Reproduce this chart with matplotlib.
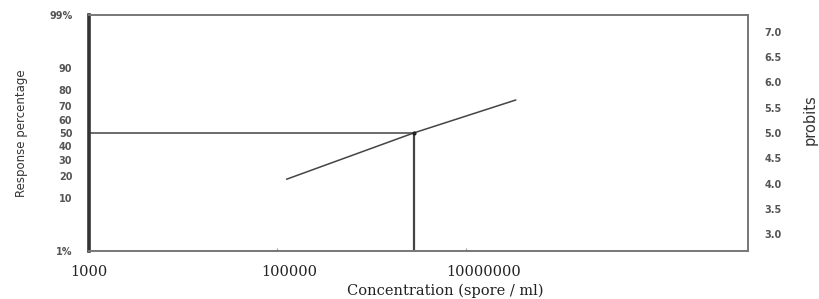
import matplotlib
matplotlib.use('Agg')
import matplotlib.pyplot as plt
from matplotlib.transforms import ScaledTranslation
from statistics import NormalDist

# data
conc = [1.26e5, 2.8e6, 3.4e7]        # spore / ml
probit_vals = [4.09, 5.0, 5.65]
lc50 = 2.8e6

pct_ticks = [1, 10, 20, 30, 40, 50, 60, 70, 80, 90, 99]
pct_labels = ['1%', '10', '20', '30', '40', '50', '60', '70', '80', '90', '99%']
probit_ticks = [3.0, 3.5, 4.0, 4.5, 5.0, 5.5, 6.0, 6.5, 7.0]
x_ticks = [1e3, 1e5, 1e7]
x_labels = ['1000', '100000', '10000000']


def to_probit(p):
    return NormalDist().inv_cdf(p / 100.0) + 5


fig = plt.figure(figsize=(8.19, 2.99), dpi=100)
ax = fig.add_axes([0.1087, 0.1605, 0.8046, 0.7893])
ax.set_xscale('log')
ax.set_xlim(1e3, 1e10)
ax.set_ylim(to_probit(1), to_probit(99))

line_c = '#444444'
ax.plot(conc, probit_vals, color=line_c, lw=1.1)
ax.plot([1e3, lc50], [5.0, 5.0], color=line_c, lw=1.1)
ax.plot([lc50, lc50], [to_probit(1), 5.0], color=line_c, lw=1.6)
ax.plot([lc50], [5.0], 'o', color='#222222', ms=2)

for s in ['top', 'right', 'bottom']:
    ax.spines[s].set_color('#777777')
    ax.spines[s].set_linewidth(1.4)
ax.spines['left'].set_color('#333333')
ax.spines['left'].set_linewidth(2.6)

# left: response percentage on probit scale
ax.set_yticks([to_probit(p) for p in pct_ticks])
ax.set_yticklabels(pct_labels)
ax.tick_params(axis='y', length=0, pad=12, labelsize=7, labelcolor='#555555')
for t in ax.get_yticklabels():
    t.set_fontweight('bold')

ax.set_xticks(x_ticks)
ax.set_xticklabels(x_labels, family='DejaVu Serif', fontsize=10.5, color='#222222')
ax.xaxis.set_minor_locator(matplotlib.ticker.NullLocator())
ax.tick_params(axis='x', direction='in', length=2, color='#999999', pad=10)
# labels in the original sit a little right of their ticks
for t, dx in zip(ax.get_xticklabels(), [0, 12, 18]):
    t.set_transform(t.get_transform() + ScaledTranslation(dx / 100, 0, fig.dpi_scale_trans))

ax.set_ylabel('Response percentage', fontsize=8.5, color='#333333', labelpad=15)

# right: probits
ax2 = ax.twinx()
ax2.set_ylim(ax.get_ylim())
ax2.set_yticks(probit_ticks)
ax2.set_yticklabels(['%.1f' % v for v in probit_ticks])
ax2.tick_params(axis='y', length=0, pad=12, labelsize=7, labelcolor='#555555')
for t in ax2.get_yticklabels():
    t.set_fontweight('bold')
for s in ax2.spines.values():
    s.set_visible(False)
fig.text(0.989, 1 - 120 / 299, 'probits', rotation=90, ha='center', va='center',
         fontsize=10.5, color='#333333')

fig.text(445 / 819, 1 - 291 / 299, 'Concentration (spore / ml)', ha='center', va='center',
         family='DejaVu Serif', fontsize=10.5, color='#222222')

fig.savefig('out.png', dpi=100)
